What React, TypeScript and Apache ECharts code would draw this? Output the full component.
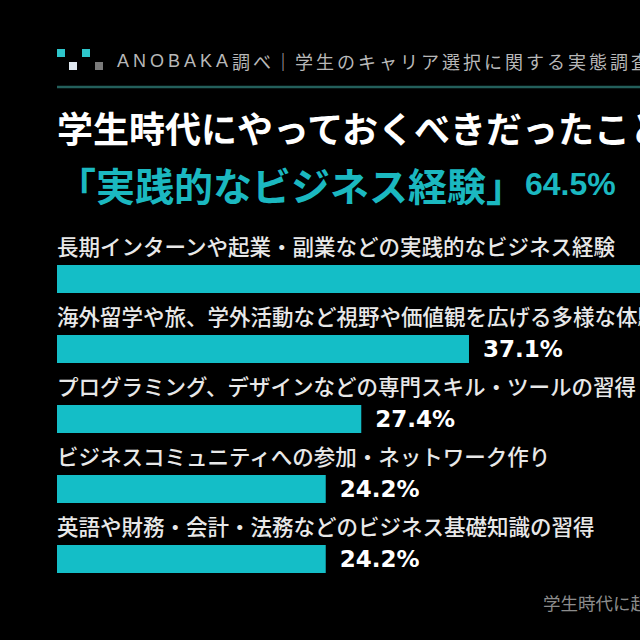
import React, { useEffect, useRef } from "react";
import * as echarts from "echarts";

const categories = [
  "長期インターンや起業・副業などの実践的なビジネス経験",
  "海外留学や旅、学外活動など視野や価値観を広げる多様な体験",
  "プログラミング、デザインなどの専門スキル・ツールの習得",
  "ビジネスコミュニティへの参加・ネットワーク作り",
  "英語や財務・会計・法務などのビジネス基礎知識の習得",
];
const values = [64.5, 37.1, 27.4, 24.2, 24.2];
const headerText = "ANOBAKA調べ｜学生のキャリア選択に関する実態調査";
const titleText = "学生時代にやっておくべきだったこと";
const highlightText = "「実践的なビジネス経験」";
const highlightValue = "64.5%";
const footerText = "学生時代に起業・副業を経験した人の割合";

const CJK = '"Noto Sans CJK JP", "Noto Sans", sans-serif';

function spaced(text: string): string {
  return Array.from(text)
    .map((ch) => (/[\x20-\x7e]/.test(ch) ? "{l|" + ch + "}" : "{c|" + ch + "}"))
    .join("");
}

export default function App() {
  const ref = useRef<HTMLDivElement>(null);
  useEffect(() => {
    if (!ref.current) return;
    const chart = echarts.init(ref.current, null, { renderer: "svg" });
    chart.setOption({
      animation: false,
      backgroundColor: "#000000",
      grid: {
        left: 57,
        right: 0,
        top: 244,
        bottom: 46,
        containLabel: false,
        outerBoundsMode: "none",
      },
      xAxis: { type: "value", min: 0, max: 52.5, show: false },
      yAxis: {
        type: "category",
        data: categories,
        inverse: true,
        axisLine: { show: false },
        axisTick: { show: false },
        splitLine: { show: false },
        axisLabel: {
          inside: true,
          interval: 0,
          margin: 0,
          align: "left",
          verticalAlign: "bottom",
          padding: [0, 0, 24, 0],
          lineHeight: 20,
          color: "#e8e8e8",
          fontSize: 21.5,
          fontWeight: 500,
          fontFamily: CJK,
          hideOverlap: false,
        },
      },
      series: [
        {
          type: "bar",
          data: values,
          barWidth: 28,
          clip: true,
          itemStyle: { color: "#14bec7" },
          label: {
            show: true,
            position: "right",
            distance: 14,
            formatter: "{c}%",
            color: "#ffffff",
            fontSize: 23,
            fontWeight: "bold",
            fontFamily: '"DejaVu Sans", sans-serif',
          },
        },
      ],
      graphic: [
        { type: "rect", shape: { x: 57, y: 49, width: 8, height: 8 }, style: { fill: "#2ec6cb" } },
        { type: "rect", shape: { x: 82, y: 49, width: 8, height: 8 }, style: { fill: "#2ec6cb" } },
        { type: "rect", shape: { x: 69, y: 62, width: 8, height: 8 }, style: { fill: "#dfe7f0" } },
        { type: "rect", shape: { x: 95, y: 62, width: 8, height: 8 }, style: { fill: "#7a7a7a" } },
        {
          type: "text",
          style: {
            text: spaced(headerText),
            x: 117,
            y: 61,
            verticalAlign: "middle",
            align: "left",
            rich: {
              l: {
                fill: "#b8b8b8",
                fontSize: 18,
                fontFamily: '"Liberation Sans", sans-serif',
                padding: [0, 4, 0, 0],
              },
              c: {
                fill: "#b8b8b8",
                fontSize: 18,
                fontFamily: CJK,
                padding: [0, 3, 0, 0],
              },
            },
          },
        },
        {
          type: "line",
          shape: { x1: 57, y1: 87, x2: 640, y2: 87 },
          style: { stroke: "#235f5b", lineWidth: 2.5 },
        },
        {
          type: "text",
          style: {
            text: titleText,
            x: 57,
            y: 127,
            fill: "#ffffff",
            fontSize: 36,
            fontWeight: "bold",
            fontFamily: CJK,
            verticalAlign: "middle",
            align: "left",
          },
        },
        {
          type: "text",
          style: {
            text: "{a|" + highlightText + "}{b|" + highlightValue + "}",
            x: 57,
            y: 184,
            verticalAlign: "middle",
            align: "left",
            rich: {
              a: {
                fill: "#1bb8c0",
                fontSize: 39,
                fontWeight: "bold",
                fontFamily: CJK,
              },
              b: {
                fill: "#1bb8c0",
                fontSize: 32,
                fontWeight: "bold",
                fontFamily: '"Liberation Sans", sans-serif',
              },
            },
          },
        },
        {
          type: "text",
          style: {
            text: footerText,
            x: 543,
            y: 602,
            fill: "#8c8c8c",
            fontSize: 17.5,
            fontFamily: CJK,
            verticalAlign: "middle",
            align: "left",
          },
        },
      ],
    });
    return () => chart.dispose();
  }, []);
  return (
    <div
      ref={ref}
      style={{ position: "fixed", left: 0, top: 0, width: 640, height: 640, background: "#000" }}
    />
  );
}
